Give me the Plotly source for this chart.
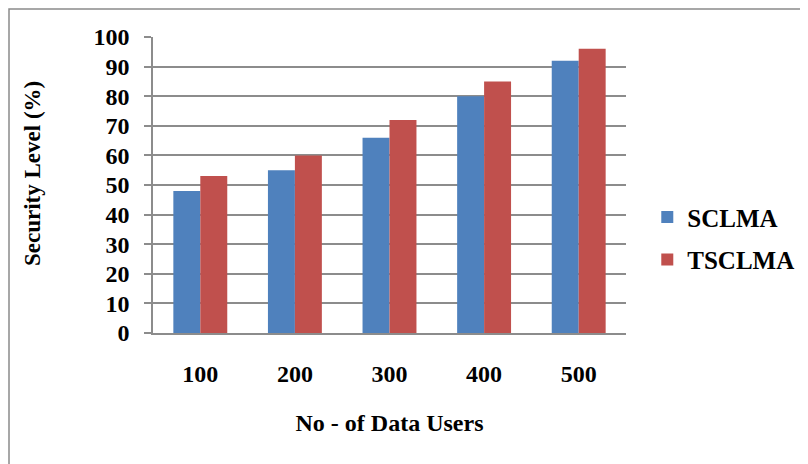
import plotly.graph_objects as go

categories = ["100", "200", "300", "400", "500"]
sclma = [48, 55, 66, 80, 92]
tsclma = [53, 60, 72, 85, 96]
y_ticks = [0, 10, 20, 30, 40, 50, 60, 70, 80, 90, 100]

FONT = "Liberation Serif"
GRID = "#8c8c8c"

# plot area in figure pixels
L, T, W, H = 145, 29, 473, 296

fig = go.Figure()
fig.add_trace(go.Bar(x=categories, y=sclma, name="SCLMA", marker_color="#4f81bd",
                     marker_line_width=0, legendgroup="a"))
fig.add_trace(go.Bar(x=categories, y=tsclma, name="TSCLMA", marker_color="#c0504d",
                     marker_line_width=0, legendgroup="b"))

fig.update_layout(
    width=808, height=464,
    margin=dict(l=L, r=808 - L - W, t=T, b=464 - T - H),
    paper_bgcolor="white", plot_bgcolor="white",
    barmode="group", bargap=0.43, bargroupgap=0,
    font=dict(family=FONT, size=24, color="black", weight="bold"),
    showlegend=True,
    legend=dict(x=1.045, y=0.32, xanchor="left", yanchor="middle",
                font=dict(family=FONT, size=25, color="black", weight="bold"),
                tracegroupgap=7, bgcolor="rgba(0,0,0,0)"),
    shapes=[dict(type="rect", xref="paper", yref="paper",
                 x0=(1.0 - L) / W, x1=2.0, y0=-1.0, y1=(T + H - 1.0) / H,
                 line=dict(color="#8a8a8a", width=1.5), fillcolor="rgba(0,0,0,0)",
                 layer="below")],
    annotations=[dict(text="Security Level (%)", textangle=-90, showarrow=False,
                      xref="paper", yref="paper", x=(24 - L) / W, y=(T + H - 166) / H,
                      xanchor="center", yanchor="middle",
                      font=dict(family=FONT, size=23, color="black", weight="bold"))],
)

fig.update_xaxes(
    type="category",
    showline=True, linecolor=GRID, linewidth=1.5,
    ticks="", showgrid=False,
    tickfont=dict(family=FONT, size=24, color="black", weight="bold"),
    ticklabelstandoff=18,
    title=dict(text="No - of Data Users",
               font=dict(family=FONT, size=24, color="black", weight="bold"),
               standoff=29),
)
fig.update_yaxes(
    range=[0, 100], tickvals=y_ticks,
    showline=True, linecolor=GRID, linewidth=1.5,
    ticks="outside", ticklen=7, tickcolor=GRID, tickwidth=1.5,
    showgrid=True, gridcolor=GRID, gridwidth=1.5, zeroline=False,
    tickfont=dict(family=FONT, size=24, color="black", weight="bold"),
    ticklabelstandoff=10,
)

fig.write_html("out.html")
